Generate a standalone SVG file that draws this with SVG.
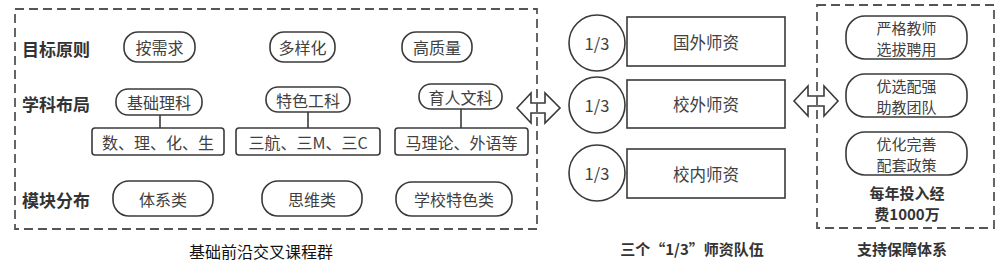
<svg xmlns="http://www.w3.org/2000/svg" width="1006" height="271" viewBox="0 0 1006 271">
<style>
text{font-family:"Noto Sans CJK SC","Liberation Sans",sans-serif;text-anchor:middle;dominant-baseline:central}
.lbl{font-size:17px;font-weight:bold;fill:#333;text-anchor:start}
.t{font-size:16px;fill:#404040}
.t2{font-size:15px;fill:#404040}
.big{font-size:16.5px;fill:#404040}
.cap{font-size:15px;font-weight:bold;fill:#333}
.shape{fill:#fff;stroke:#3a3a3a;stroke-width:1.6}
.dash{fill:none;stroke:#555;stroke-width:1.8;stroke-dasharray:9,5}
.line{stroke:#3a3a3a;stroke-width:1.6;fill:none}
.arrow{fill:#fff;stroke:#3a3a3a;stroke-width:1.6;stroke-linejoin:miter}
</style>
<rect width="1006" height="271" fill="#fff"/>

<g id="connectors">
<line class="line" x1="160" y1="115" x2="160" y2="128"/>
<line class="line" x1="308" y1="112" x2="308" y2="128"/>
<line class="line" x1="461" y1="109" x2="461" y2="128"/>
<polygon id="arrow1" class="arrow" points="517,108 531,93 531,103 545,103 545,93 560,108 545,123 545,113 531,113 531,123"/>
<polygon id="arrow2" class="arrow" points="794,101 808,86 808,96 824,96 824,86 838,101 824,116 824,106 808,106 808,116"/>
</g>

<g id="left-panel">
<rect class="dash" x="15" y="9" width="522" height="220"/>
<text class="lbl" x="22" y="48">目标原则</text>
<text class="lbl" x="22" y="103">学科布局</text>
<text class="lbl" x="22" y="199">模块分布</text>
</g>

<g id="n-anxuqiu"><rect class="shape" x="124" y="32" width="71" height="30" rx="14"/><text class="t" x="159.5" y="47">按需求</text></g>
<g id="n-duoyanghua"><rect class="shape" x="270" y="32" width="65" height="30" rx="14"/><text class="t" x="302.5" y="47">多样化</text></g>
<g id="n-gaozhiliang"><rect class="shape" x="402" y="32" width="70" height="30" rx="14"/><text class="t" x="437" y="47">高质量</text></g>

<g id="n-jichulike"><rect class="shape" x="116" y="89" width="86" height="26" rx="12"/><text class="t" x="159" y="102">基础理科</text></g>
<g id="n-tesegongke"><rect class="shape" x="266" y="87" width="84" height="25" rx="12"/><text class="t" x="308" y="99.5">特色工科</text></g>
<g id="n-yurenwenke"><rect class="shape" x="419" y="84" width="83" height="25" rx="12"/><text class="t" x="460.5" y="96.5">育人文科</text></g>

<g id="n-shulihuasheng"><rect class="shape" x="92" y="128" width="132" height="27" rx="3"/><text class="t" x="158" y="141.5">数、理、化、生</text></g>
<g id="n-sanhang"><rect class="shape" x="236" y="128" width="144" height="27" rx="3"/><text class="t" x="308" y="141.5">三航、三M、三C</text></g>
<g id="n-malilun"><rect class="shape" x="395" y="128" width="133" height="27" rx="3"/><text class="t" x="461.5" y="141.5">马理论、外语等</text></g>

<g id="n-tixilei"><rect class="shape" x="113" y="181" width="100" height="35" rx="16"/><text class="t" x="163" y="198.5">体系类</text></g>
<g id="n-siweilei"><rect class="shape" x="262" y="181" width="100" height="35" rx="16"/><text class="t" x="312" y="198.5">思维类</text></g>
<g id="n-xuexiao"><rect class="shape" x="396" y="182" width="116" height="34" rx="16"/><text class="t" x="454" y="199">学校特色类</text></g>

<g id="n-guowai">
<circle class="shape" cx="597" cy="43" r="28"/><text class="big" x="597" y="43">1/3</text>
<rect class="shape" x="627" y="17" width="158" height="49"/><text class="big" x="706" y="41.5">国外师资</text>
</g>
<g id="n-xiaowai">
<circle class="shape" cx="597" cy="105" r="28"/><text class="big" x="597" y="105">1/3</text>
<rect class="shape" x="627" y="80" width="158" height="48"/><text class="big" x="706" y="104">校外师资</text>
</g>
<g id="n-xiaonei">
<circle class="shape" cx="597" cy="173" r="28"/><text class="big" x="597" y="173">1/3</text>
<rect class="shape" x="627" y="149" width="158" height="49"/><text class="big" x="706" y="173.5">校内师资</text>
</g>

<g id="right-panel">
<rect class="dash" x="817" y="5" width="177" height="223"/>
</g>
<g id="n-yange"><rect class="shape" x="846" y="16" width="121" height="43" rx="19"/><text class="t2" x="906.5" y="27.5">严格教师</text><text class="t2" x="906.5" y="48">选拔聘用</text></g>
<g id="n-youxuan"><rect class="shape" x="846" y="74" width="121" height="43" rx="19"/><text class="t2" x="906.5" y="85.5">优选配强</text><text class="t2" x="906.5" y="106">助教团队</text></g>
<g id="n-youhua"><rect class="shape" x="846" y="132" width="121" height="43" rx="19"/><text class="t2" x="906.5" y="143.5">优化完善</text><text class="t2" x="906.5" y="164">配套政策</text></g>
<g id="n-funds"><text class="cap" x="907" y="192">每年投入经</text><text class="cap" x="907" y="213">费1000万</text></g>

<g id="captions">
<text x="261" y="251" style="font-size:16px;fill:#111">基础前沿交叉课程群</text>
<text class="cap" x="692" y="248">三个“1/3”师资队伍</text>
<text class="cap" x="902" y="248">支持保障体系</text>
</g>
</svg>
